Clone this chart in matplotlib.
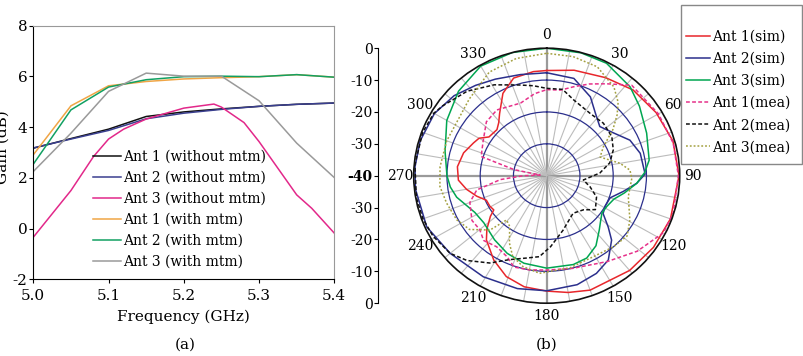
import numpy as np
import matplotlib
matplotlib.use("Agg")
import matplotlib.pyplot as plt
from matplotlib.patches import Rectangle

plt.rcParams['font.family'] = ['DejaVu Serif']
plt.rcParams['font.size'] = 10
plt.rcParams['axes.unicode_minus'] = False

# ---- (a) gain vs frequency ----
freq = [5.0, 5.05, 5.1, 5.15, 5.2, 5.25, 5.3, 5.35, 5.4]
freq_a3 = [5.0, 5.05, 5.08, 5.1, 5.12, 5.15, 5.2, 5.24, 5.25, 5.28, 5.3, 5.35, 5.37, 5.4]

gain_ant1_wo = [3.17, 3.55, 3.92, 4.42, 4.6, 4.72, 4.82, 4.9, 4.95]
gain_ant2_wo = [3.18, 3.53, 3.87, 4.33, 4.55, 4.7, 4.82, 4.9, 4.95]
gain_ant3_wo = [-0.34, 1.5, 2.84, 3.53, 3.92, 4.32, 4.75, 4.91, 4.79, 4.18, 3.43, 1.33, 0.8, -0.18]
gain_ant1_w = [2.91, 4.84, 5.63, 5.8, 5.9, 5.95, 5.99, 6.07, 5.97]
gain_ant2_w = [2.54, 4.68, 5.58, 5.87, 5.99, 6.01, 5.99, 6.07, 5.97]
gain_ant3_w = [2.25, 3.76, 5.41, 6.13, 6.01, 6.01, 5.04, 3.37, 2.01]

labels_a = ['Ant 1 (without mtm)', 'Ant 2 (without mtm)', 'Ant 3 (without mtm)',
            'Ant 1 (with mtm)', 'Ant 2 (with mtm)', 'Ant 3 (with mtm)']
colors_a = ['#111111', '#3a3f8f', '#e2288a', '#f0a545', '#12a062', '#9a9a9a']

# ---- (b) radiation patterns (deg, dB) ----
ang_ant1_sim = [0, 14, 30, 44, 59, 74, 90, 110, 125, 140, 160, 170, 180, 191, 201, 211, 222, 227,
                233, 236, 241, 247, 253, 260, 267, 276, 286, 295, 300, 305, 314, 319, 324, 333, 342, 353]
db_ant1_sim = [-7, -5.9, -4.5, -2.6, -1.6, -0.5, -0.2, -0.4, -0.8, -1.2, -1.8, -2.8, -3.8, -4.5, -6.1,
               -9.1, -12.9, -15.4, -18.8, -20.8, -20.4, -20.3, -18, -15.5, -13.4, -13, -14, -15.7,
               -16.5, -18.8, -19.2, -18, -15.9, -11, -7.8, -7.1]

ang_ant2_sim = [0, 15, 28, 37, 46, 56, 66, 76, 89, 95, 102, 110, 118, 125, 131, 136, 145, 154, 165,
                180, 194, 211, 230, 246, 264, 274, 286, 300, 312, 323, 333, 346, 356]
db_ant2_sim = [-7.7, -8.4, -12, -15.6, -17.8, -15.9, -12.6, -11, -10.4, -12.8, -16.4, -19.7, -20,
               -19.3, -15.5, -11.9, -7.7, -5.9, -4.6, -3.9, -3.5, -3.0, -2.1, -0.5, -0.3, -0.3, -0.4,
               -1.0, -2.5, -4.5, -6, -7.3, -7.8]

ang_ant3_sim = [0, 15, 27, 42, 52, 66, 81, 88, 95, 103, 110, 118, 125, 131, 137, 146, 155, 164, 180,
                194, 206, 218, 232, 242, 256, 263, 270, 284, 300, 315, 330, 345]
db_ant3_sim = [0, -0.1, -0.4, -2.5, -4.6, -7.1, -8.8, -10.5, -12.8, -16, -18.5, -19.5, -19.7, -18.5,
               -16.8, -13.5, -11.5, -11, -11, -11.7, -12.9, -14.5, -16, -15.5, -12.1, -10.8, -10,
               -8.5, -5.3, -2.5, -0.3, 0]

ang_ant1_mea = [0, 9, 16, 24, 32, 42, 60, 75, 90, 107, 117, 131, 146, 165, 180, 190, 199, 205, 214,
                223, 230, 238, 250, 258, 265, 270, 276, 281, 287, 299, 313, 324, 341, 352]
db_ant1_mea = [-13, -12.8, -11, -8.5, -6, -1.8, -1.2, -0.6, -0.4, -0.2, -0.6, -3.9, -7.5, -9.9,
               -10.4, -10, -9.7, -11.9, -13.1, -12.2, -13.7, -13.5, -15.4, -18.5, -26, -33, -38,
               -30, -19.4, -18.1, -15.2, -14.5, -15.9, -14]

ang_ant2_mea = [0, 10, 19, 34, 46, 58, 68, 78, 87, 97, 105, 114, 126, 134, 146, 164, 177, 185, 193,
                203, 212, 222, 230, 241, 250, 260, 275, 290, 300, 305, 318, 331, 344, 352]
db_ant2_mea = [-12.6, -12.5, -14.9, -16.5, -16.3, -16.9, -18.4, -20.6, -24, -28.9, -26.5, -23.6,
               -21.9, -24.6, -25.8, -22.2, -17.7, -14.5, -13.5, -11.4, -7.7, -4.2, -2.1, -0.9,
               -0.4, -0.2, -0.2, -0.3, -0.8, -1.8, -4.3, -7.4, -10.4, -11.5]

ang_ant3_mea = [0, 12, 24, 36, 43, 48, 54, 62, 70, 80, 86, 92, 105, 119, 128, 138, 153, 166, 184,
                194, 202, 208, 215, 221, 225, 234, 243, 254, 264, 275, 290, 309, 316, 332, 346]
db_ant3_mea = [-1.6, -1.8, -2.6, -5.6, -8.5, -11.5, -15.4, -20.7, -22.9, -17.6, -14.9, -14.4,
               -14.6, -11.4, -9.3, -10, -11, -10.3, -9.3, -10.6, -12.7, -16.1, -20.6, -21.6, -15.9,
               -11.3, -9.6, -8.7, -7.7, -7.8, -8, -7.6, -6.5, -3.2, -2.1]

labels_b = ['Ant 1(sim)', 'Ant 2(sim)', 'Ant 3(sim)', 'Ant 1(mea)', 'Ant 2(mea)', 'Ant 3(mea)']
colors_b = ['#e8262b', '#2b2f8c', '#00a651', '#e6318a', '#111111', '#a3a040']
dashes_b = [None, None, None, (2.5, 1.5), (2.5, 1.5), (1.2, 1.3)]

W, H = 804, 356
fig = plt.figure(figsize=(W / 100, H / 100), dpi=100)


def fx(px):
    return px / W


def fy(py):
    return 1 - py / H


# ---------- panel (a) ----------
ax = fig.add_axes([fx(33.3), fy(279.3), fx(301), 253.6 / H])
series_a = [(freq, gain_ant1_wo), (freq, gain_ant2_wo), (freq_a3, gain_ant3_wo),
            (freq, gain_ant1_w), (freq, gain_ant2_w), (freq, gain_ant3_w)]
for (xs, ys), lab, col in zip(series_a, labels_a, colors_a):
    ax.plot(xs, ys, color=col, lw=1.1, label=lab)
ax.set_xlim(5.0, 5.4)
ax.set_ylim(-2, 8)
ax.set_xticks([5.0, 5.1, 5.2, 5.3, 5.4])
ax.set_xticklabels(['5.0', '5.1', '5.2', '5.3', '5.4'])
ax.set_yticks([-2, 0, 2, 4, 6, 8])
ax.tick_params(direction='out', length=3, labelsize=11, pad=1)
ax.tick_params(axis='x', pad=4)
for s in ['top', 'right']:
    ax.spines[s].set_color('#999999')
ax.set_xlabel('Frequency (GHz)', fontsize=11, labelpad=5)
ax.set_ylabel('Gain (dB)', fontsize=11)
ax.yaxis.set_label_coords(-0.08, 0.52)
ax.legend(loc='upper left', bbox_to_anchor=(fx(93), fy(150)), bbox_transform=fig.transFigure,
          frameon=False, borderpad=0, handlelength=2.0, handletextpad=0.2,
          labelspacing=0.5, fontsize=10, borderaxespad=0)
fig.text(fx(185), fy(345), '(a)', ha='center', va='center', fontsize=11)

# ---------- panel (b) ----------
pax = fig.add_axes([fx(413.7), fy(303.2), fx(266), 255 / H], projection='polar')
pax.set_aspect('auto')
pax.set_theta_zero_location('N')
pax.set_theta_direction(-1)
pax.set_ylim(-40, 0)
pax.set_yticks([-30, -20, -10])
pax.set_yticklabels([])
pax.yaxis.grid(True, color='#2b2f8c', lw=0.9)

spokes = np.arange(0, 360, 10)
pax.set_xticks(np.deg2rad(spokes))
pax.set_xticklabels([str(a) if a % 30 == 0 else '' for a in spokes], fontsize=10)
pax.tick_params(axis='x', pad=-1)
pax.xaxis.grid(True, color='#bcbcbc', lw=0.8)
for a, gl in zip(spokes, pax.xaxis.get_gridlines()):
    if a % 90 == 0:
        gl.set_color('#9a9a9a')
        gl.set_linewidth(1.6)
pax.spines['polar'].set_color('#111111')
pax.spines['polar'].set_linewidth(1.2)

series_b = [(ang_ant1_sim, db_ant1_sim), (ang_ant2_sim, db_ant2_sim), (ang_ant3_sim, db_ant3_sim),
            (ang_ant1_mea, db_ant1_mea), (ang_ant2_mea, db_ant2_mea), (ang_ant3_mea, db_ant3_mea)]
handles = []
for (angs, dbs), lab, col, ds in zip(series_b, labels_b, colors_b, dashes_b):
    th = np.deg2rad(list(angs) + [angs[0]])
    rr = list(dbs) + [dbs[0]]
    ln, = pax.plot(th, rr, color=col, lw=1.1, label=lab)
    if ds is not None:
        ln.set_dashes(ds)
    handles.append(ln)

# radial scale drawn as a separate vertical axis
rax = fig.add_axes([fx(378.3), fy(303.2), 0.0001, 255 / H])
rax.set_ylim(-40, 40)
rticks = list(range(-40, 41, 10))
rax.set_yticks(rticks)
rax.set_yticklabels([str(abs(v) - 40) for v in rticks], fontsize=10)
rax.set_xticks([])
for s in ['top', 'right', 'bottom']:
    rax.spines[s].set_visible(False)
rax.tick_params(axis='y', direction='out', length=3, pad=1)
for t in rax.get_yticklabels():
    if t.get_text() == '-40':
        t.set_fontweight('bold')
rax.patch.set_visible(False)

fig.patches.append(Rectangle((fx(681), fy(164)), fx(121), 159 / H, transform=fig.transFigure,
                             facecolor='none', edgecolor='#888888', lw=1.0, zorder=0))
fig.legend(handles=handles, labels=labels_b, loc='upper left',
           bbox_to_anchor=(fx(686), fy(30)), bbox_transform=fig.transFigure,
           frameon=False, borderpad=0, handlelength=1.75, handletextpad=0.15,
           labelspacing=0.58, fontsize=10, borderaxespad=0)
fig.text(fx(546.7), fy(345), '(b)', ha='center', va='center', fontsize=11)

fig.savefig('out.png', dpi=100)
